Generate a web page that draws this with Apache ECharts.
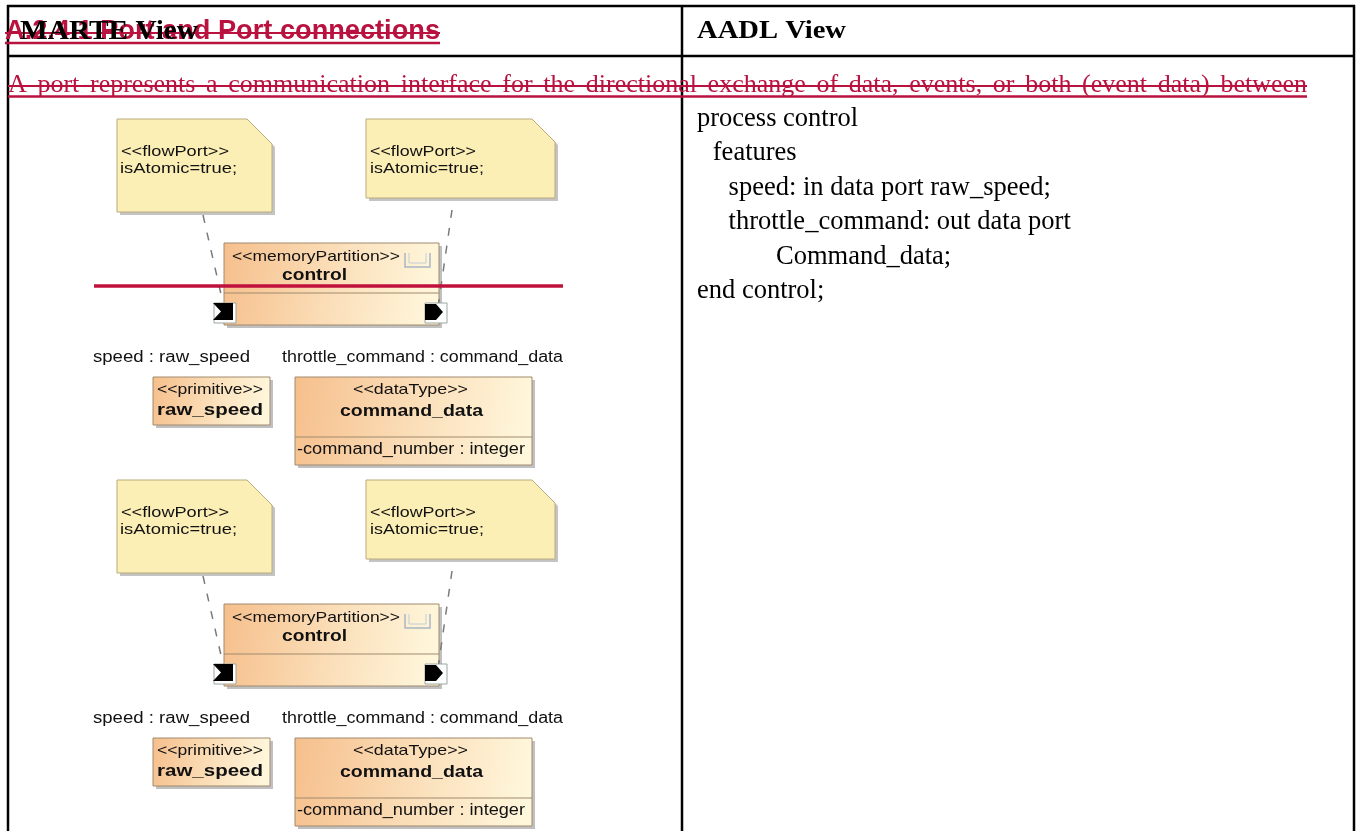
<!DOCTYPE html>
<html><head><meta charset="utf-8">
<script src="https://cdn.jsdelivr.net/npm/echarts@6/dist/echarts.min.js"></script>
<style>html,body{margin:0;padding:0;background:#fff}#c{width:1359px;height:831px}</style>
</head><body><div id="c"></div>
<script>
// ---- content ----
const headers = ['MARTE View', 'AADL View'];
const sectionTitle = 'A.2.4.1 Port and Port connections';
const introText = 'A port represents a communication interface for the directional exchange of data, events, or both (event data) between';
const aadlLines = ['process control', '  features', '    speed: in data port raw_speed;', '    throttle_command: out data port', '          Command_data;', 'end control;'];
const noteText = ['<<flowPort>>', 'isAtomic=true;'];
const partitionText = ['<<memoryPartition>>', 'control'];
const portLabels = ['speed : raw_speed', 'throttle_command : command_data'];
const primitiveText = ['<<primitive>>', 'raw_speed'];
const dataTypeText = ['<<dataType>>', 'command_data', '-command_number : integer'];
const diagramCopies = [0, 361];

// ---- helpers ----
const RED = '#b9123f';
const SANS = '"Liberation Sans", Arial, sans-serif';
const SERIF = '"Liberation Serif", "Times New Roman", serif';
const cvs = document.createElement('canvas').getContext('2d');
function measure(str, font) { cvs.font = font; return cvs.measureText(str).width; }
function txt(str, x, y, size, family, weight, color, targetW, z) {
  const font = (weight || 'normal') + ' ' + size + 'px ' + family;
  const w = measure(str, font);
  const sx = targetW ? targetW / w : 1;
  return { type: 'text', x: x, y: y, scaleX: sx, z: z || 20,
    style: { text: str, font: font, fill: color || '#000', align: 'left', verticalAlign: 'middle',
             textAlign: 'left', textVerticalAlign: 'middle' } };
}
function line(x1, y1, x2, y2, color, w, dash, z) {
  return { type: 'line', z: z || 10, shape: { x1: x1, y1: y1, x2: x2, y2: y2 },
    style: { stroke: color, lineWidth: w, lineDash: dash || null } };
}
function poly(points, fill, stroke, lw, z) {
  return { type: 'polygon', z: z || 5, shape: { points: points }, style: { fill: fill, stroke: stroke || null, lineWidth: lw || 1 } };
}
function rect(x, y, w, h, fill, stroke, lw, z) {
  return { type: 'rect', z: z || 5, shape: { x: x, y: y, width: w, height: h }, style: { fill: fill, stroke: stroke || null, lineWidth: lw || 1 } };
}
function grad() {
  return new echarts.graphic.LinearGradient(0, 0, 1, 0.4, [
    { offset: 0, color: '#f6bf8c' }, { offset: 0.55, color: '#fbe0bb' }, { offset: 1, color: '#fff7dc' }]);
}
function note(x1, y1, x2, y2, f) {
  const pts = [[x1, y1], [x2 - f, y1], [x2, y1 + f], [x2, y2], [x1, y2]];
  const sh = pts.map(p => [p[0] + 3, p[1] + 3]);
  return [poly(sh, '#c4c4c4', null, 0, 3), poly(pts, '#fcefb6', '#b9aa7c', 1, 4)];
}
function box(x1, y1, x2, y2, divY) {
  const out = [rect(x1 + 3, y1 + 3, x2 - x1, y2 - y1, '#c0c0c0', null, 0, 3), rect(x1, y1, x2 - x1, y2 - y1, grad(), '#a08a6e', 1, 4)];
  if (divY) out.push(line(x1, divY, x2, divY, '#a08a6e', 1, null, 6));
  return out;
}

const els = [];
// ---- table ----
els.push(line(7, 6, 1355, 6, '#000', 2.5));
els.push(line(7, 56, 1355, 56, '#000', 2.5));
els.push(line(8, 5, 8, 831, '#000', 2.5));
els.push(line(682, 5, 682, 831, '#000', 2.5));
els.push(line(1354, 5, 1354, 831, '#000', 2.5));

// red section title (underlined + struck)
els.push(txt(sectionTitle, 5, 32, 27, SANS, 'bold', RED, 435, 30));
els.push(line(5, 43, 440, 43, RED, 2.5, null, 31));
els.push(line(5, 33, 440, 33, RED, 2, null, 31));
// headers (drawn over the red title)
els.push(txt(headers[0], 20, 32, 27, SERIF, 'bold', '#000', 178, 35));
els.push(txt(headers[1], 697, 32, 25, SERIF, 'bold', '#000', 149, 35));

// red intro line, justified
(function () {
  const size = 26;
  const font = 'normal ' + size + 'px ' + SERIF;
  const words = introText.split(' ');
  const ws = words.map(w => measure(w, font));
  const total = ws.reduce((a, b) => a + b, 0);
  const x0 = 8, x1 = 1307;
  const gap = (x1 - x0 - total) / (words.length - 1);
  let x = x0;
  words.forEach((w, i) => { els.push(txt(w, x, 85, size, SERIF, 'normal', RED, null, 31)); x += ws[i] + gap; });
  els.push(line(x0, 96.5, x1, 96.5, RED, 2.5, null, 32));
  els.push(line(x0, 86, x1, 86, RED, 2, null, 32));
})();

// AADL code
aadlLines.forEach((l, i) => {
  const lead = l.length - l.replace(/^ +/, '').length;
  els.push(txt(l.trim(), 697 + lead * 7.9, 119 + i * 34.5, 26.5, SERIF, 'normal', '#000', null, 30));
});

// ---- diagrams ----
diagramCopies.forEach((dy, ci) => {
  els.push(...note(117, 119 + dy, 272, 212 + dy, 25));
  els.push(...note(366, 119 + dy, 555, 198 + dy, 23));
  els.push(txt(noteText[0], 121, 152 + dy, 15, SANS, 'normal', '#111', 108));
  els.push(txt(noteText[1], 120, 169 + dy, 15, SANS, 'normal', '#111', 117));
  els.push(txt(noteText[0], 370, 152 + dy, 15, SANS, 'normal', '#111', 106));
  els.push(txt(noteText[1], 370, 169 + dy, 15, SANS, 'normal', '#111', 114));
  // dependency lines
  els.push(line(203, 215 + dy, 223, 303 + dy, '#7a7a7a', 1.5, [8, 10], 8));
  els.push(line(452, 210 + dy, 438, 307 + dy, '#7a7a7a', 1.5, [8, 10], 8));
  // memory partition
  els.push(...box(224, 243 + dy, 439, 325 + dy, 293 + dy));
  els.push(txt(partitionText[0], 232, 257 + dy, 15, SANS, 'normal', '#111', 168));
  els.push(txt(partitionText[1], 282, 276 + dy, 16, SANS, 'bold', '#111', 65));
  // component icon
  els.push({ type: 'polyline', z: 9, shape: { points: [[405, 253 + dy], [405, 267 + dy], [430, 267 + dy], [430, 253 + dy]] }, style: { stroke: '#a9b6c6', lineWidth: 1.5, fill: null } });
  els.push({ type: 'polyline', z: 9, shape: { points: [[409, 253 + dy], [409, 263 + dy], [426, 263 + dy], [426, 253 + dy]] }, style: { stroke: '#c3ccd6', lineWidth: 1, fill: null } });
  // ports
  els.push(rect(214, 303 + dy, 22, 20, '#ffffff', '#9aa6a0', 1, 9));
  els.push(poly([[213, 303 + dy], [233, 303 + dy], [233, 320 + dy], [213, 320 + dy], [221, 311.5 + dy]], '#000', null, 0, 10));
  els.push(rect(425, 303 + dy, 22, 20, '#ffffff', '#9aa6a0', 1, 9));
  els.push(poly([[425, 304 + dy], [436, 304 + dy], [443, 312 + dy], [436, 320 + dy], [425, 320 + dy]], '#000', null, 0, 10));
  // port labels
  els.push(txt(portLabels[0], 93, 358 + dy, 16, SANS, 'normal', '#111', 157));
  els.push(txt(portLabels[1], 282, 358 + dy, 16, SANS, 'normal', '#111', 281));
  // primitive
  els.push(...box(153, 377 + dy, 270, 425 + dy));
  els.push(txt(primitiveText[0], 157, 390 + dy, 15, SANS, 'normal', '#111', 106));
  els.push(txt(primitiveText[1], 157, 410 + dy, 17, SANS, 'bold', '#111', 106));
  // data type
  els.push(...box(295, 377 + dy, 532, 465 + dy, 437 + dy));
  els.push(txt(dataTypeText[0], 353, 390 + dy, 15, SANS, 'normal', '#111', 115));
  els.push(txt(dataTypeText[1], 340, 411 + dy, 17, SANS, 'bold', '#111', 143));
  els.push(txt(dataTypeText[2], 297, 450 + dy, 16, SANS, 'normal', '#111', 228));
  if (ci === 0) els.push(line(94, 286, 563, 286, '#c0103c', 3.5, null, 40));
});

const chart = echarts.init(document.getElementById('c'), null, { renderer: 'canvas' });
chart.setOption({ backgroundColor: '#ffffff', animation: false, graphic: { elements: els } });
</script></body></html>
